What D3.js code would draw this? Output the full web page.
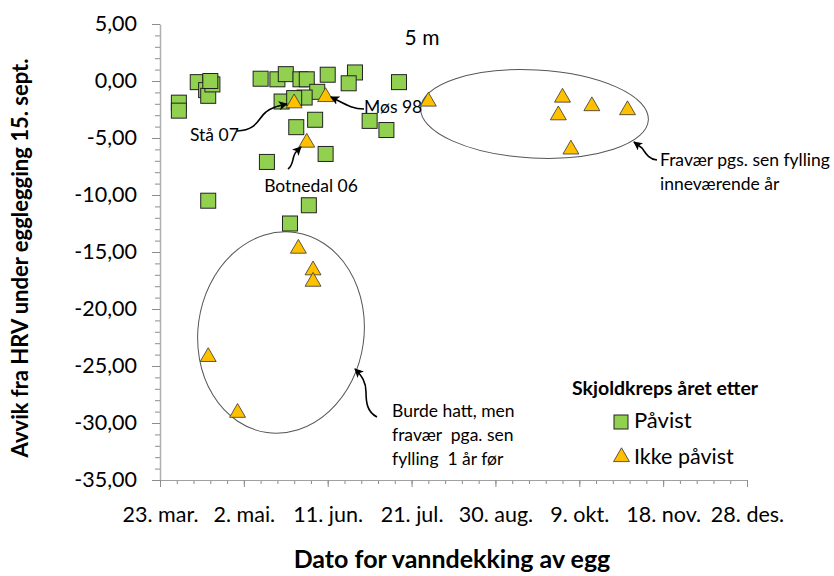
<!DOCTYPE html>
<html><head><meta charset="utf-8">
<script src="https://cdn.jsdelivr.net/npm/d3@7"></script>
<style>
body{margin:0;background:#fff;}
text{font-family:Lato,"Open Sans",sans-serif;fill:#000;}
</style></head>
<body><svg id="c" width="834" height="576"></svg>
<script>
// ---- data ----
const squareDates = ["04-01","04-01","04-10","04-16","04-14","04-15","04-17","04-16","04-15",
  "05-10","05-18","05-22","05-29","06-01","06-11","06-24","06-21","07-15","06-06","05-31",
  "05-20","05-26","05-27","06-05","06-10","05-13","07-01","07-09","06-02","05-24"];
const squareValues = [-1.9,-2.6,-0.1,-0.2,-0.8,-1.3,-0.3,0.0,-10.5,
  0.2,0.15,0.6,0.15,0.15,0.55,0.75,-0.2,-0.1,-0.95,-1.45,
  -1.8,-1.5,-4.05,-3.4,-6.4,-7.1,-3.5,-4.3,-10.9,-12.5];
const triangleDates = ["05-26","06-10","06-01","05-28","06-04","06-04","04-15","04-29",
  "07-29","10-01","09-29","10-15","11-01","10-05"];
const triangleValues = [-1.95,-1.4,-5.4,-14.7,-16.6,-17.6,-24.2,-29.1,
  -1.8,-1.45,-3.0,-2.2,-2.55,-6.0];
const xTickLabels = ["23. mar.","2. mai.","11. jun.","21. jul.","30. aug.","9. okt.","18. nov.","28. des."];
const yTicks = [5,0,-5,-10,-15,-20,-25,-30,-35];

// ---- helpers ----
const YEAR = 2010;
const toDate = s => { const [m,d] = s.split("-").map(Number); return new Date(Date.UTC(YEAR, m-1, d)); };
const DAY = 86400000;
const start = new Date(Date.UTC(YEAR,2,23));
const end = new Date(Date.UTC(YEAR,11,28));
const svg = d3.select("#c");

const x = d3.scaleUtc().domain([start,end]).range([160,747]);
const y = d3.scaleLinear().domain([-35,5]).range([480,24]);
const nf = d3.formatLocale({decimal:",",thousands:" ",grouping:[3],currency:["",""],minus:"-"}).format(".2f");

// minor ticks
const yMinor = d3.range(-35,5.001,1);
svg.append("g").attr("transform","translate(160,0)")
  .call(d3.axisLeft(y).tickValues(yMinor).tickSize(5).tickFormat(""))
  .call(g=>{g.select(".domain").remove(); g.selectAll("line").attr("stroke","#8c8c8c");});
const xMajorVals = d3.range(8).map(i=>new Date(start.getTime()+i*40*DAY));
const xMinorVals = d3.range(36).map(i=>new Date(start.getTime()+i*8*DAY));
svg.append("g").attr("transform","translate(0,480)")
  .call(d3.axisBottom(x).tickValues(xMinorVals).tickSize(4).tickFormat(""))
  .call(g=>{g.select(".domain").remove(); g.selectAll("line").attr("stroke","#8c8c8c");});

// y axis
svg.append("g").attr("transform","translate(160,0)")
  .call(d3.axisLeft(y).tickValues(yTicks).tickSizeInner(8).tickSizeOuter(0).tickPadding(15).tickFormat(nf))
  .call(g=>{g.select(".domain").attr("stroke","#b0b0b0").attr("stroke-width",1.5);
    g.selectAll("line").attr("stroke","#8c8c8c");
    g.selectAll("text").attr("font-size",21.5).attr("fill","#000").style("font-family","Lato");});
// x axis
svg.append("g").attr("transform","translate(0,480)")
  .call(d3.axisBottom(x).tickValues(xMajorVals).tickSizeInner(7).tickSizeOuter(0).tickPadding(20)
    .tickFormat((d,i)=>xTickLabels[i]))
  .call(g=>{g.select(".domain").attr("stroke","#a0a0a0");
    g.selectAll("line").attr("stroke","#8c8c8c");
    g.selectAll("text").attr("font-size",21.5).attr("fill","#000").style("font-family","Lato");});

// axis titles
svg.append("text").attr("transform","translate(28,258) rotate(-90)").attr("text-anchor","middle")
  .attr("font-size",22).attr("font-weight","bold").text("Avvik fra HRV under egglegging 15. sept.");
svg.append("text").attr("x",452).attr("y",568).attr("text-anchor","middle")
  .attr("font-size",25).attr("font-weight","bold").text("Dato for vanndekking av egg");

// ellipses
svg.append("ellipse").attr("cx",0).attr("cy",0).attr("rx",114).attr("ry",44)
  .attr("transform","translate(534.5,114) rotate(3)").attr("fill","none").attr("stroke","#555").attr("stroke-width",1);
svg.append("ellipse").attr("cx",0).attr("cy",0).attr("rx",83).attr("ry",101)
  .attr("transform","translate(281,332.5) rotate(8)").attr("fill","none").attr("stroke","#555").attr("stroke-width",1);

// markers
const sq = 15;
const pts = squareDates.map((d,i)=>({x:x(toDate(d)), y:y(squareValues[i])}));
svg.append("g").selectAll("rect").data(pts).join("rect")
  .attr("x",d=>d.x-sq/2).attr("y",d=>d.y-sq/2).attr("width",sq).attr("height",sq)
  .attr("fill","#92D050").attr("stroke","#222").attr("stroke-width",1);
const tri = d3.symbol().type(d3.symbolTriangle).size(110);
const tpts = triangleDates.map((d,i)=>({x:x(toDate(d)), y:y(triangleValues[i])}));
svg.append("g").selectAll("path").data(tpts).join("path")
  .attr("d",tri).attr("transform",d=>`translate(${d.x},${d.y})`)
  .attr("fill","#FFC000").attr("stroke","#333").attr("stroke-width",0.8);

// arrow marker
svg.append("defs").append("marker").attr("id","ah").attr("viewBox","0 0 10 10")
  .attr("refX",9).attr("refY",5).attr("markerWidth",9).attr("markerHeight",9)
  .attr("markerUnits","userSpaceOnUse").attr("orient","auto")
  .append("path").attr("d","M0,0 L10,5 L0,10 L2.5,5 Z").attr("fill","#000");
const arrows = [
  "M237,131 C258,130 258,118 266,112 C272,107 278,106 287,104",
  "M364,109 C352,109 345,104 331,97",
  "M288,169 C294,165 292,156 296,152 L301,147",
  "M657,160 C648,159 645,152 642,148 L634,142",
  "M377,417 C367,412 366,402 366,392 C366,382 362,376 355,369"
];
svg.append("g").selectAll("path").data(arrows).join("path").attr("d",d=>d)
  .attr("fill","none").attr("stroke","#000").attr("stroke-width",1.6).attr("marker-end","url(#ah)");

// annotation texts
const ann = [
  {t:"5 m",x:422,y:45,s:21,a:"middle"},
  {t:"Stå 07",x:190,y:141,s:17.5,a:"start"},
  {t:"Møs 98",x:364,y:113,s:17.5,a:"start"},
  {t:"Botnedal 06",x:311,y:192,s:17.5,a:"middle"},
  {t:"Fravær pgs. sen fylling",x:660,y:166,s:17.5,a:"start"},
  {t:"inneværende år",x:660,y:190,s:17.5,a:"start"},
  {t:"Burde hatt, men",x:392,y:417,s:17.5,a:"start"},
  {t:"fravær  pga. sen",x:392,y:441,s:17.5,a:"start"},
  {t:"fylling  1 år før",x:392,y:465,s:17.5,a:"start"}
];
svg.append("g").selectAll("text").data(ann).join("text")
  .attr("x",d=>d.x).attr("y",d=>d.y).attr("font-size",d=>d.s).attr("text-anchor",d=>d.a)
  .style("white-space","pre").attr("xml:space","preserve").text(d=>d.t);

// legend
svg.append("text").attr("x",572).attr("y",395).attr("font-size",19.5).attr("font-weight","bold").text("Skjoldkreps året etter");
svg.append("rect").attr("x",614).attr("y",415).attr("width",14).attr("height",14)
  .attr("fill","#92D050").attr("stroke","#222").attr("stroke-width",1);
svg.append("text").attr("x",634).attr("y",428).attr("font-size",22).text("Påvist");
svg.append("path").attr("d",tri).attr("transform","translate(621.5,457)")
  .attr("fill","#FFC000").attr("stroke","#333").attr("stroke-width",0.8);
svg.append("text").attr("x",634).attr("y",464).attr("font-size",21.5).text("Ikke påvist");
</script></body></html>
